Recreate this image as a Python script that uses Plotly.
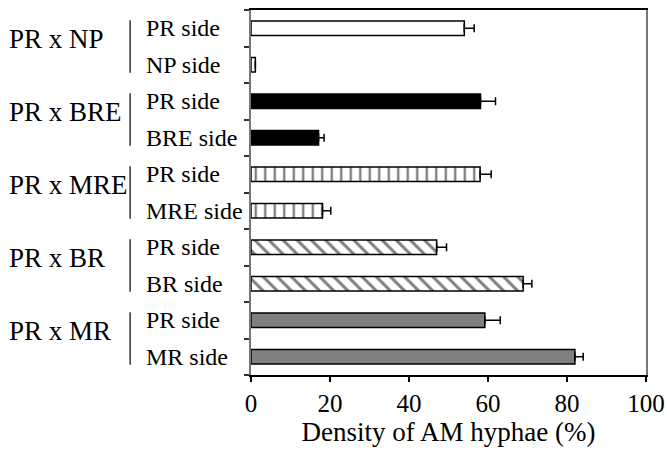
import plotly.graph_objects as go

groups = ["PR x NP", "PR x BRE", "PR x MRE", "PR x BR", "PR x MR"]
sides = [["PR side", "NP side"], ["PR side", "BRE side"], ["PR side", "MRE side"],
         ["PR side", "BR side"], ["PR side", "MR side"]]
values = [[54.0, 1.1], [58.1, 17.1], [58.0, 18.1], [47.0, 68.9], [59.2, 82.0]]
errors = [[2.5, 0.0], [3.8, 1.4], [2.8, 2.1], [2.5, 2.2], [3.9, 2.1]]
x_ticks = [0, 20, 40, 60, 80, 100]

FONT = "Liberation Serif"

styles = [
    dict(color="white"),
    dict(color="black"),
    dict(color="white", pattern=dict(shape="|", fgcolor="black", bgcolor="white", size=9.5, solidity=0.25)),
    dict(color="white", pattern=dict(shape="\\", fgcolor="black", bgcolor="white", size=10, solidity=0.3)),
    dict(color="#808080"),
]

fig = go.Figure()
annotations = []
shapes = []
for gi, g in enumerate(groups):
    ys = [2 * gi, 2 * gi + 1]
    marker = dict(styles[gi])
    marker["line"] = dict(color="black", width=1.5)
    fig.add_trace(go.Bar(
        x=values[gi], y=ys, orientation="h", width=0.4,
        marker=marker, showlegend=False,
        error_x=dict(type="data", symmetric=False, array=errors[gi],
                     arrayminus=[0, 0], color="black", thickness=1.5, width=4),
    ))
    for s, yv in zip(sides[gi], ys):
        annotations.append(dict(text=s, x=-0.271, xref="paper", y=yv, yref="y",
                                xanchor="left", yanchor="middle", showarrow=False,
                                font=dict(family=FONT, size=24, color="black")))
    annotations.append(dict(text=g, x=-0.618, xref="paper", y=(ys[0] + ys[1]) / 2 - 0.2, yref="y",
                            xanchor="left", yanchor="middle", showarrow=False,
                            font=dict(family=FONT, size=27, color="black")))
    shapes.append(dict(type="line", xref="paper", yref="y", x0=-0.306, x1=-0.306,
                       y0=ys[0] - 0.22, y1=ys[1] + 0.22,
                       line=dict(color="#333", width=1.5)))

n = 2 * len(groups)
fig.update_layout(
    width=667, height=450,
    margin=dict(l=251, r=21, t=10, b=75, autoexpand=False),
    plot_bgcolor="white", paper_bgcolor="white",
    bargap=0.6,
    annotations=annotations, shapes=shapes,
    font=dict(family=FONT, color="black"),
    xaxis=dict(range=[0, 100], tickvals=x_ticks, ticks="outside", ticklen=5,
               tickcolor="black", tickwidth=1.5, showline=True, linecolor="black",
               linewidth=1.5, mirror=True, showgrid=False, zeroline=False,
               automargin=False,
               tickfont=dict(family=FONT, size=25, color="black"),
               title=dict(text="Density of AM hyphae (%)", standoff=4,
                          font=dict(family=FONT, size=27, color="black"))),
    yaxis=dict(range=[n - 0.5, -0.5], tickvals=[i - 0.5 for i in range(n + 1)],
               ticks="outside", ticklen=5, tickcolor="#333", tickwidth=1.5,
               showticklabels=False, showline=True, linecolor="#777", linewidth=2,
               mirror=True, showgrid=False, zeroline=False, automargin=False),
)

fig.write_html("out.html")
